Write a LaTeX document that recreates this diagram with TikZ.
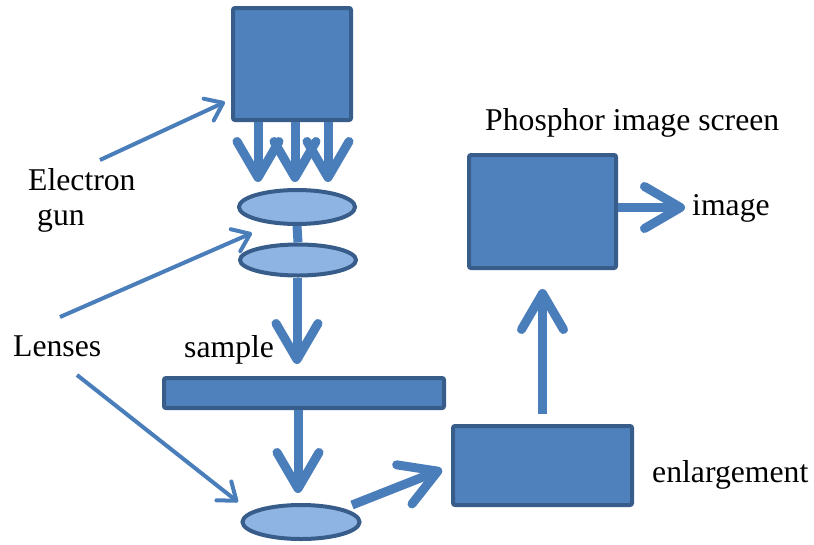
\documentclass[tikz,border=0pt]{standalone}
\usepackage{fontspec}
\setmainfont{Liberation Serif}
\usetikzlibrary{arrows.meta,shapes.geometric}

\definecolor{boxfill}{HTML}{4F81BD}
\definecolor{boxline}{HTML}{385D8A}
\definecolor{lensfill}{HTML}{8EB4E3}
\definecolor{arrowblue}{HTML}{4A7EBB}

\tikzset{
  block/.style={draw=boxline, fill=boxfill, line width=4pt, rounded corners=2pt,
                inner sep=0pt, rectangle},
  lens/.style={draw=boxline, fill=lensfill, line width=4pt, ellipse, inner sep=0pt},
  label/.style={inner sep=0pt, anchor=base west, font=\fontsize{31.7}{36}\selectfont},
  bigarrow/.style={draw=arrowblue, line width=9pt,
                   -{Straight Barb[length=36pt, width=42pt, round]}},
  beam/.style={draw=arrowblue, line width=9pt},
  pointer/.style={draw=arrowblue, line width=4pt,
                  -{Straight Barb[length=16pt, width=24pt, round]}},
}

\begin{document}
\begin{tikzpicture}[x=1pt, y=-1pt]
  \useasboundingbox (0,0) rectangle (814,544);

  % instrument column
  \node[block, minimum width=118pt, minimum height=112pt] (gun) at (292,64) {};
  \node[lens, minimum width=116pt, minimum height=34pt] (lens1) at (297,207) {};
  \node[lens, minimum width=116pt, minimum height=31pt] (lens2) at (298,260) {};
  \node[block, minimum width=280pt, minimum height=30pt] (sample) at (304,393) {};
  \node[lens, minimum width=117pt, minimum height=34pt] (lens3) at (301,522) {};
  \node[block, minimum width=179pt, minimum height=79pt] (enl) at (542.5,465.5) {};
  \node[block, minimum width=147pt, minimum height=113pt] (screen) at (542.5,211.5) {};

  % text
  \node[label] (tscreen) at (485,130) {Phosphor image screen};
  \node[label] (timage) at (692,215) {image};
  \node[label] (tenl) at (652,482) {enlargement};
  \node[label] (tsample) at (184,357) {sample};
  \node[label] (telectron) at (28,190) {Electron};
  \node[label] (tgun) at (37,225) {gun};
  \node[label] (tlenses) at (13,356) {Lenses};

  % electron beams
  \draw[bigarrow] ([xshift=-34pt]gun.south) -- ([xshift=-39pt, yshift=6pt]lens1.north);
  \draw[bigarrow] ([xshift=3pt]gun.south) -- ([xshift=-2pt, yshift=6pt]lens1.north);
  \draw[bigarrow] ([xshift=36pt]gun.south) -- ([xshift=31pt, yshift=6pt]lens1.north);
  \draw[beam] (lens1.south) -- (lens2.north);
  \draw[bigarrow] ([xshift=-1pt]lens2.south) -- ([xshift=-7pt, yshift=12pt]sample.north);
  \draw[bigarrow] ([xshift=-6pt]sample.south) -- ([xshift=-3pt, yshift=10pt]lens3.north);
  \draw[bigarrow] ([xshift=51pt, yshift=17pt]lens3.center) -- ([xshift=-9pt, yshift=-4pt]enl.west);
  \draw[bigarrow] ([yshift=10pt]enl.north) -- ([yshift=-19pt]screen.south);
  \draw[bigarrow] ([yshift=4pt]screen.east) -- ([xshift=67pt, yshift=4pt]screen.east);

  % pointers from the captions
  \draw[pointer] ([xshift=72pt, yshift=30pt]telectron.base west) -- ([xshift=-6pt, yshift=-38pt]gun.west);
  \draw[pointer] ([xshift=47pt, yshift=39pt]tlenses.base west) -- ([xshift=-46pt, yshift=27pt]lens2.center);
  \draw[pointer] ([xshift=64pt, yshift=-19pt]tlenses.base west) -- ([xshift=-63pt, yshift=20pt]lens3.center);
\end{tikzpicture}
\end{document}
